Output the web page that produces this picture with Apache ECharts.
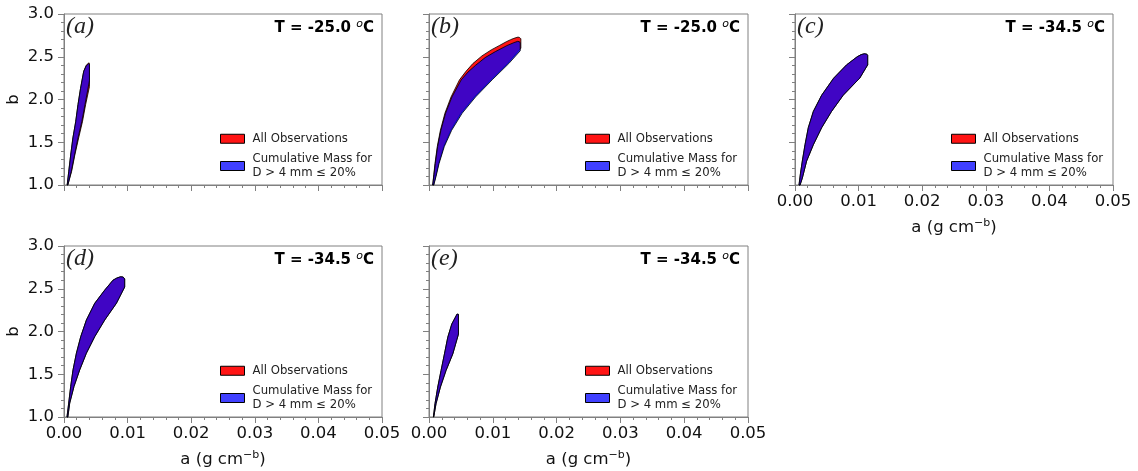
<!DOCTYPE html>
<html><head><meta charset="utf-8">
<script src="https://cdn.jsdelivr.net/npm/echarts@6/dist/echarts.min.js"></script>
<style>html,body{margin:0;padding:0;background:#fff}#c{width:1138px;height:471px}</style>
</head><body><div id="c"></div>
<script>
// ---------- data (a, b) polygon boundaries ----------
const panelLabels = ['(a)', '(b)', '(c)', '(d)', '(e)'];
const panelTemps = ['-25.0', '-25.0', '-34.5', '-34.5', '-34.5'];
const xTicks = [0.00, 0.01, 0.02, 0.03, 0.04, 0.05];
const yTicks = [1.0, 1.5, 2.0, 2.5, 3.0];
const seriesNames = ['All Observations', 'Cumulative Mass for\nD > 4 mm \u2264 20%'];

// panel (a)
const aObsUpper = [[0.0005,1.0],[0.00075,1.16],[0.00105,1.35],[0.0014,1.55],[0.00184,1.74],[0.0022,1.94],[0.0026,2.13],[0.0031,2.33],[0.0035,2.40],[0.0039,2.43],[0.0040,2.42]];
const aObsLower = [[0.0006,1.0],[0.0012,1.16],[0.0017,1.35],[0.0023,1.55],[0.0029,1.74],[0.0034,1.94],[0.0040,2.15]];
const aCumUpper = [[0.0005,1.0],[0.00075,1.16],[0.00105,1.35],[0.0014,1.55],[0.00184,1.74],[0.0022,1.94],[0.0026,2.13],[0.0031,2.33],[0.0035,2.395],[0.0039,2.42],[0.0040,2.41]];
const aCumLower = [[0.0006,1.0],[0.00115,1.16],[0.00165,1.35],[0.0022,1.55],[0.0028,1.74],[0.0033,1.94],[0.0037,2.10],[0.0040,2.22]];
// panel (b)
const bObsUpper = [[0.00058,1.0],[0.00075,1.12],[0.00094,1.25],[0.0013,1.45],[0.00179,1.64],[0.0025,1.84],[0.00346,2.03],[0.00478,2.23],[0.0058,2.33],[0.00687,2.42],[0.0083,2.51],[0.00975,2.58],[0.0110,2.63],[0.0121,2.675],[0.0128,2.70],[0.0133,2.715],[0.01395,2.73],[0.0142,2.725],[0.0144,2.71]];
const bObsLower = [[0.00072,1.0],[0.00105,1.10],[0.0015,1.25],[0.0023,1.45],[0.0034,1.64],[0.0050,1.84],[0.0071,2.03],[0.0097,2.23],[0.0123,2.42],[0.0144,2.60]];
const bCumUpper = [[0.00058,1.0],[0.00078,1.12],[0.00098,1.25],[0.00135,1.45],[0.00186,1.64],[0.0026,1.84],[0.0036,2.03],[0.00505,2.23],[0.0061,2.32],[0.0073,2.40],[0.0088,2.49],[0.0104,2.56],[0.0122,2.63],[0.0133,2.665],[0.0139,2.68],[0.0142,2.675],[0.0143,2.66]];
const bCumLower = [[0.00075,1.0],[0.0011,1.10],[0.00157,1.25],[0.0024,1.45],[0.00355,1.64],[0.0052,1.84],[0.0073,2.03],[0.0099,2.23],[0.0125,2.42],[0.0143,2.57]];
// panel (c)
const cObsUpper = [[0.00063,1.0],[0.00085,1.13],[0.00115,1.28],[0.00157,1.47],[0.00209,1.67],[0.00288,1.86],[0.00419,2.05],[0.00608,2.25],[0.00811,2.405],[0.00978,2.50],[0.0104,2.525],[0.0109,2.535],[0.0113,2.53],[0.01143,2.515]];
const cObsLower = [[0.0008,1.0],[0.00115,1.08],[0.00183,1.28],[0.00288,1.47],[0.00419,1.67],[0.00574,1.86],[0.00758,2.05],[0.01018,2.25],[0.01143,2.405]];
const cCumUpper = cObsUpper;
const cCumLower = cObsLower;
// panel (d)
const dObsUpper = [[0.00047,1.0],[0.00074,1.163],[0.00105,1.357],[0.00142,1.551],[0.00195,1.746],[0.00263,1.94],[0.00352,2.134],[0.00483,2.33],[0.0064,2.484],[0.0077,2.60],[0.0083,2.625],[0.00887,2.64],[0.0093,2.637],[0.00954,2.615]];
const dObsLower = [[0.0006,1.0],[0.0009,1.163],[0.00157,1.357],[0.00247,1.551],[0.00352,1.746],[0.00483,1.94],[0.0064,2.134],[0.00824,2.33],[0.00954,2.52]];
const dCumUpper = dObsUpper;
const dCumLower = dObsLower;
// panel (e)
const eObsUpper = [[0.00069,1.0],[0.00094,1.155],[0.00137,1.35],[0.00189,1.544],[0.00242,1.738],[0.00294,1.932],[0.00357,2.087],[0.0044,2.204],[0.00462,2.20]];
const eObsLower = [[0.00074,1.0],[0.0011,1.155],[0.00179,1.35],[0.00267,1.544],[0.00373,1.738],[0.00462,1.97]];
const eCumUpper = eObsUpper;
const eCumLower = eObsLower;

const obsShapes = [[aObsUpper,aObsLower],[bObsUpper,bObsLower],[cObsUpper,cObsLower],[dObsUpper,dObsLower],[eObsUpper,eObsLower]];
const cumShapes = [[aCumUpper,aCumLower],[bCumUpper,bCumLower],[cCumUpper,cCumLower],[dCumUpper,dCumLower],[eCumUpper,eCumLower]];

// ---------- layout ----------
const grids = [
  {left:64, top:14, width:318, height:171},
  {left:429, top:14, width:319, height:171},
  {left:795, top:14, width:318, height:171},
  {left:64, top:246, width:318, height:171},
  {left:429, top:246, width:319, height:171}
];
const showXLabels = [false, false, true, true, true];
const showYLabels = [true, false, false, true, false];
const AXC = '#808080';
const FONT = 'DejaVu Sans';
const RED = 'rgb(255,20,20)';
const BLUE = 'rgba(0,0,255,0.75)';

function polygon(shape){ return shape[0].concat(shape[1].slice().reverse()); }

function makeSeries(name, shape, idx, fill){
  const pts = polygon(shape);
  return {
    type:'custom', name:name, xAxisIndex:idx, yAxisIndex:idx,
    itemStyle:{color:fill, borderColor:'#000', borderWidth:1},
    data: pts,
    renderItem:function(params, api){
      if (params.dataIndex !== 0) return null;
      return {type:'polygon', shape:{points: pts.map(p => api.coord(p))},
        style:{fill:fill, stroke:'rgba(0,0,0,0.9)', lineWidth:0.9, lineJoin:'round'}};
    },
    silent:true, animation:false
  };
}

const xAxes = grids.map((g,i) => ({
  type:'value', gridIndex:i, min:xTicks[0], max:xTicks[xTicks.length-1], interval:0.01,
  axisLine:{show:true, lineStyle:{color:AXC, width:1}},
  axisTick:{show:true, length:6, lineStyle:{color:AXC}},
  minorTick:{show:true, splitNumber:5, length:3, lineStyle:{color:AXC}},
  splitLine:{show:false},
  axisLabel:{show:showXLabels[i], fontSize:16.5, fontFamily:FONT, color:'#111', margin:8,
    formatter:v => v.toFixed(2)},
  name: showXLabels[i] ? 'a (g cm{sup|\u2212b})' : '',
  nameLocation:'middle', nameGap:33,
  nameTextStyle:{fontSize:16.5, fontFamily:FONT, color:'#111',
    rich:{sup:{fontSize:11, fontFamily:FONT, color:'#111', padding:[0,0,9,0]}}}
}));
const yAxes = grids.map((g,i) => ({
  type:'value', gridIndex:i, min:yTicks[0], max:yTicks[yTicks.length-1], interval:0.5,
  axisLine:{show:true, lineStyle:{color:AXC, width:1}},
  axisTick:{show:true, length:6, lineStyle:{color:AXC}},
  minorTick:{show:true, splitNumber:5, length:3, lineStyle:{color:AXC}},
  splitLine:{show:false},
  axisLabel:{show:showYLabels[i], fontSize:16.5, fontFamily:FONT, color:'#111', margin:10,
    formatter:v => v.toFixed(1)},
  name: showYLabels[i] ? 'b' : '',
  nameLocation:'middle', nameGap:42,
  nameTextStyle:{fontSize:16.5, fontFamily:FONT, color:'#111'}
}));

const titles = [];
grids.forEach((g,i) => {
  titles.push({text:panelLabels[i], left:g.left+2, top:g.top+1, padding:0,
    textStyle:{fontFamily:'Liberation Serif', fontStyle:'italic', fontWeight:'normal', fontSize:24, color:'#222'}});
  titles.push({text:'T = ' + panelTemps[i] + ' {sup|o}C', right:1138-(g.left+g.width)+8, top:g.top+5, padding:0,
    textStyle:{fontFamily:FONT, fontWeight:'bold', fontSize:15, color:'#000',
      rich:{sup:{fontFamily:FONT, fontStyle:'italic', fontWeight:'normal', fontSize:11, color:'#000', padding:[0,0,7,0]}}}});
});

const legends = grids.map((g,i) => ({
  left: g.left + 156, top: g.top + 118, orient:'vertical', itemGap:7, padding:0,
  itemWidth:24, itemHeight:9, icon:'rect', selectedMode:false,
  itemStyle:{borderColor:'#000', borderWidth:1},
  textStyle:{fontSize:11.7, fontFamily:FONT, color:'#222', lineHeight:13.5, padding:[0,0,0,3]},
  data: seriesNames.map((n,k) => ({name:n, itemStyle:{color: k===0 ? RED : BLUE, borderColor:'#000', borderWidth:1}}))
}));

const series = [];
grids.forEach((g,i) => {
  series.push(makeSeries(seriesNames[0], obsShapes[i], i, RED));
  series.push(makeSeries(seriesNames[1], cumShapes[i], i, BLUE));
});

const chart = echarts.init(document.getElementById('c'), null, {renderer:'canvas'});
chart.setOption({
  animation:false, backgroundColor:'#fff',
  title:titles,
  grid: grids.map(g => Object.assign({show:true, borderColor:AXC, borderWidth:1, backgroundColor:'transparent'}, g)),
  xAxis:xAxes, yAxis:yAxes, legend:legends, series:series
});
</script></body></html>
